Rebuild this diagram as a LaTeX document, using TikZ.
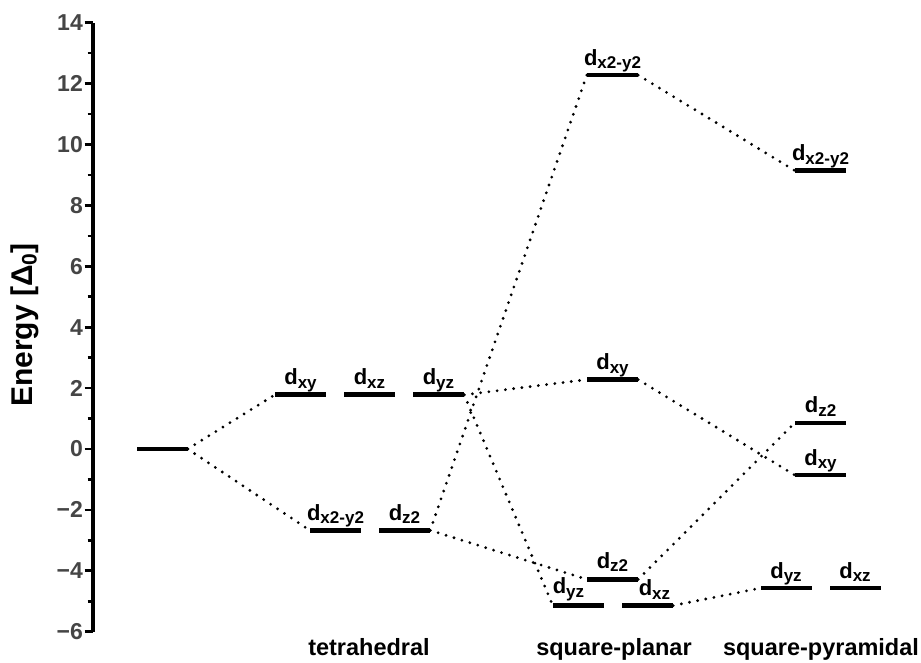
\documentclass[tikz,border=0pt]{standalone}
\usepackage{fontspec}
\setmainfont{Liberation Sans}
\newcommand\orb[1]{d\raisebox{-3.5pt}{\fontsize{17}{17}\selectfont #1}}
\begin{document}
\begin{tikzpicture}[x=1pt,y=1pt,
  level/.style={rectangle, fill=black, inner sep=0pt, minimum width=51pt, minimum height=4.6pt},
  orblab/.style={font=\fontsize{22}{22}\selectfont\bfseries, inner sep=0pt, anchor=base},
  ticklab/.style={font=\fontsize{23}{23}\selectfont\bfseries, text=black!73, inner sep=0pt, anchor=east},
  catlab/.style={font=\fontsize{23.5}{23.5}\selectfont\bfseries, inner sep=0pt, anchor=base},
  conn/.style={line width=3.1pt, line cap=round, dash pattern=on 0pt off 8.3pt},
  majtick/.style={line width=2.8pt},
  mintick/.style={line width=2.5pt}]
\useasboundingbox (0,0) rectangle (921,662);
\begin{scope}[yshift=213pt, y=30.45pt]
  % energy axis
  \draw[line width=3.4pt] (93,-6) -- (93,14);
  \foreach \v in {-6,-4,...,14} {
    \draw[majtick] (84.5,\v) -- (93,\v);
    \node[ticklab] (tick\v) at (83,\v) {\ifnum\v<0 −\the\numexpr-\v\relax\else\v\fi};
  }
  \foreach \v in {-5,-3,...,13} \draw[mintick] (87.5,\v) -- (93,\v);
  \node[rotate=90, font=\fontsize{30}{30}\selectfont\bfseries, inner sep=0pt] (ylab) at (25,4.07)
    {Energy [Δ\raisebox{-4pt}{\fontsize{21}{21}\selectfont 0}]};

  % free ion
  \node[level] (f) at (162,0) {};

  % tetrahedral
  \node[level] (txy) at (300.5,1.78) {};
  \node[level] (txz) at (369.5,1.78) {};
  \node[level] (tyz) at (438.5,1.78) {};
  \node[level] (tx2) at (335.5,-2.67) {};
  \node[level] (tz2) at (404.5,-2.67) {};

  % square-planar
  \node[level] (px2) at (612.5,12.28) {};
  \node[level] (pxy) at (612.5,2.28) {};
  \node[level] (pz2) at (612.5,-4.28) {};
  \node[level] (pyz) at (578.5,-5.14) {};
  \node[level] (pxz) at (647.5,-5.14) {};

  % square-pyramidal
  \node[level] (qx2) at (820.5,9.14) {};
  \node[level] (qz2) at (820.5,0.86) {};
  \node[level] (qxy) at (820.5,-0.86) {};
  \node[level] (qyz) at (786,-4.57) {};
  \node[level] (qxz) at (855,-4.57) {};

  % orbital labels
  \node[orblab] (ltxy) at ([yshift=10pt]txy.center) {\orb{xy}};
  \node[orblab] (ltxz) at ([yshift=10pt]txz.center) {\orb{xz}};
  \node[orblab] (ltyz) at ([yshift=10pt]tyz.center) {\orb{yz}};
  \node[orblab] (ltx2) at ([yshift=10pt]tx2.center) {\orb{x2-y2}};
  \node[orblab] (ltz2) at ([yshift=10pt]tz2.center) {\orb{z2}};
  \node[orblab] (lpx2) at ([yshift=10pt]px2.center) {\orb{x2-y2}};
  \node[orblab] (lpxy) at ([yshift=10pt]pxy.center) {\orb{xy}};
  \node[orblab] (lpz2) at ([yshift=11pt]pz2.center) {\orb{z2}};
  \node[orblab] (lpyz) at ([xshift=-10pt,yshift=12pt]pyz.center) {\orb{yz}};
  \node[orblab] (lpxz) at ([xshift=7pt,yshift=10pt]pxz.center) {\orb{xz}};
  \node[orblab] (lqx2) at ([yshift=10pt]qx2.center) {\orb{x2-y2}};
  \node[orblab] (lqz2) at ([yshift=10pt]qz2.center) {\orb{z2}};
  \node[orblab] (lqxy) at ([yshift=10pt]qxy.center) {\orb{xy}};
  \node[orblab] (lqyz) at ([yshift=10pt]qyz.center) {\orb{yz}};
  \node[orblab] (lqxz) at ([yshift=10pt]qxz.center) {\orb{xz}};

  % correlation lines
  \draw[conn] (f.east) -- (txy.west);
  \draw[conn] (f.east) -- (tx2.west);
  \draw[conn] (tyz.east) -- (pxy.west);
  \draw[conn] (tyz.east) -- (pyz.west);
  \draw[conn] (tz2.east) -- (px2.west);
  \draw[conn] (tz2.east) -- (pz2.west);
  \draw[conn] (px2.east) -- (qx2.west);
  \draw[conn] (pxy.east) -- (qxy.west);
  \draw[conn] (pz2.east) -- (qz2.west);
  \draw[conn] (pxz.east) -- (qyz.west);

  % geometry names
  \node[catlab] (ctet) at (369,-6.77) {tetrahedral};
  \node[catlab] (csp) at (614,-6.77) {square-planar};
  \node[catlab] (cspy) at (821,-6.77) {square-pyramidal};
\end{scope}
\end{tikzpicture}
\end{document}
